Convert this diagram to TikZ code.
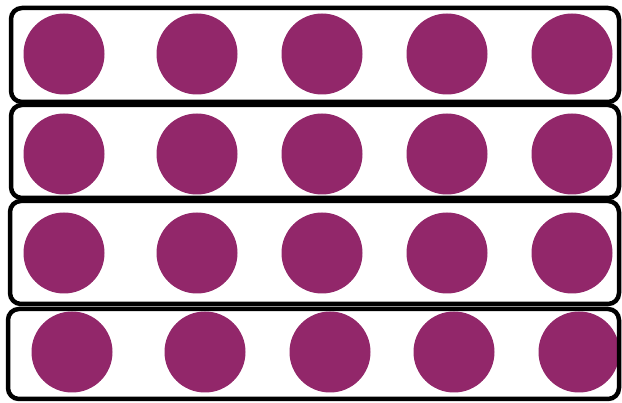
\documentclass[tikz,border=0pt]{standalone}
\definecolor{dotc}{RGB}{146,39,106}
\tikzset{
  frame/.style={draw=black,line width=4.5pt,rounded corners=11pt},
  dot/.style={circle,fill=dotc,draw=none,minimum size=81pt,inner sep=0pt}
}
\begin{document}
\begin{tikzpicture}[x=1pt,y=-1pt]
\useasboundingbox[fill=white] (0,0) rectangle (622,403);
% row 1-3 dots
\foreach \r/\yy in {1/54,2/154,3/253}{
  \foreach \c/\xx in {1/64,2/197,3/322,4/447,5/572}{
    \node[dot] (d\r\c) at (\xx,\yy) {};
  }
}
% row 4 dots
\foreach \c/\xx in {1/72,2/205,3/330,4/454,5/579}{
  \node[dot] (d4\c) at (\xx,352) {};
}
% frames
\draw[frame] (11,8) rectangle (619,102);
\draw[frame] (11,105) rectangle (619,198);
\draw[frame] (10,201) rectangle (619,304);
\draw[frame] (8,309) rectangle (619,399);
\end{tikzpicture}
\end{document}
